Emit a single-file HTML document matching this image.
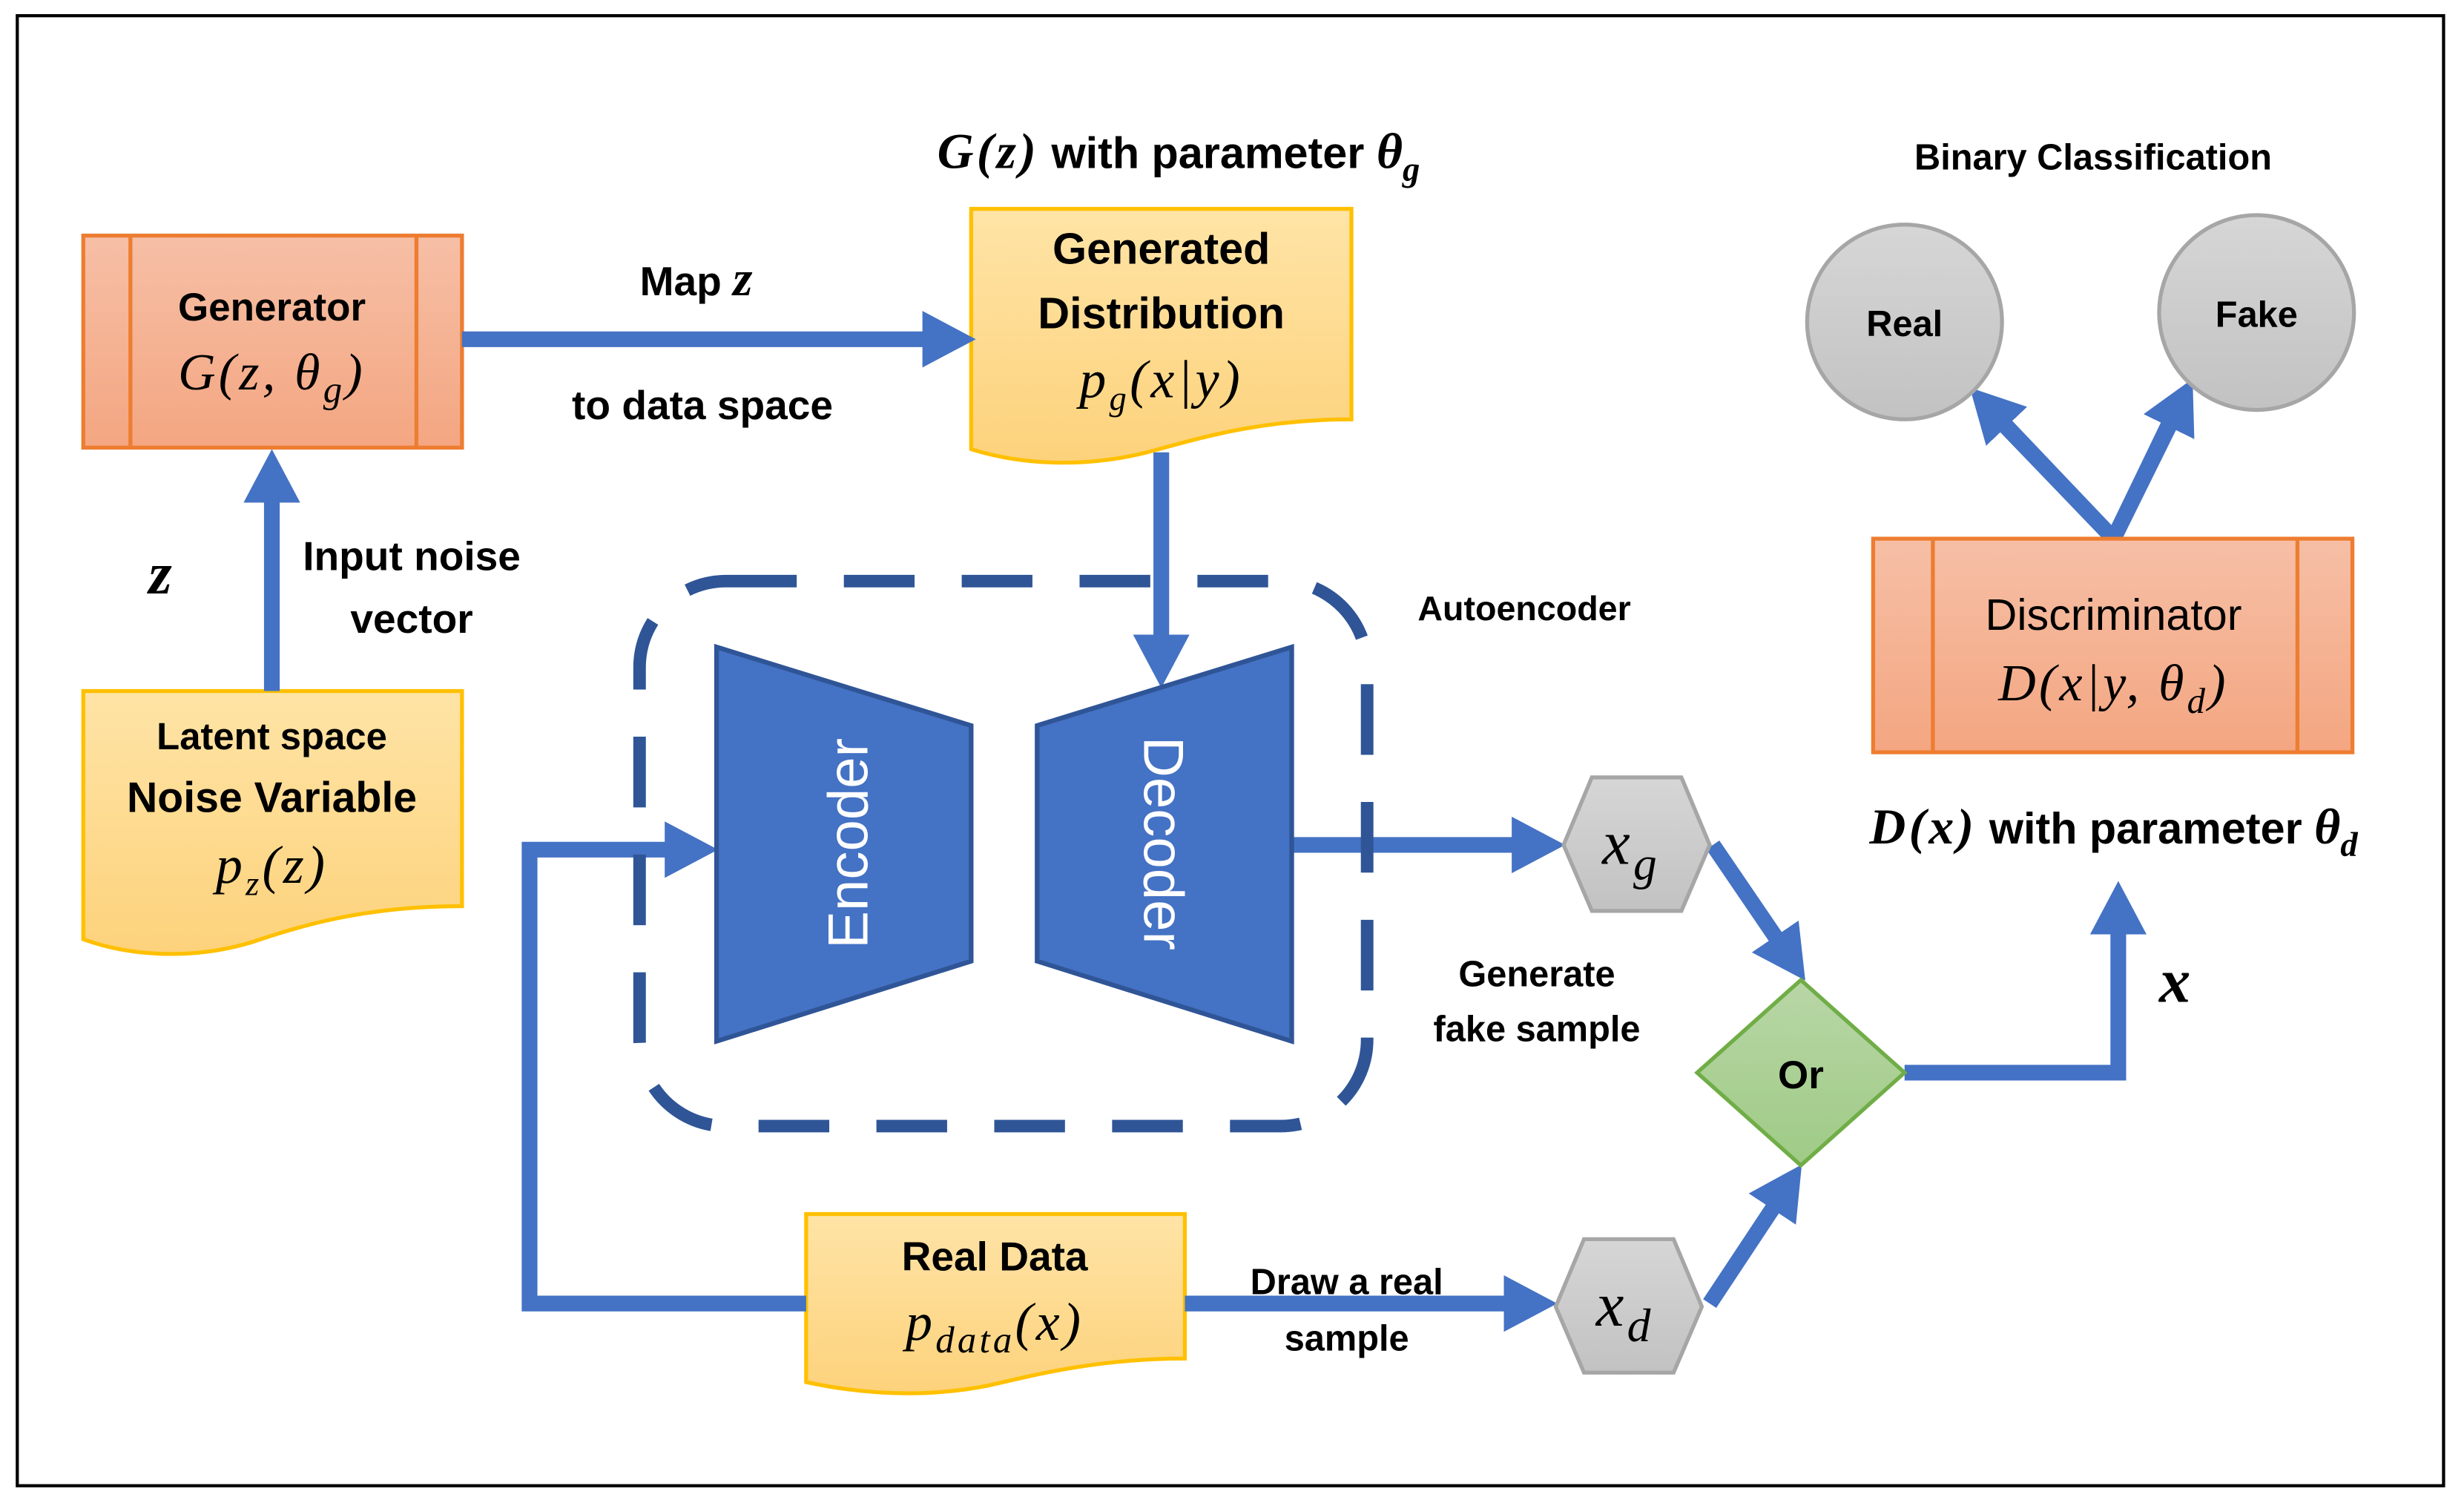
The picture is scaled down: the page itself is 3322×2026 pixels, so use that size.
<!DOCTYPE html>
<html><head><meta charset="utf-8"><style>
html,body{margin:0;padding:0;background:#fff}
svg{display:block}
.b{font-family:"Liberation Sans",sans-serif;font-weight:bold;fill:#000;text-anchor:middle}
.m{font-family:"Liberation Serif",serif;font-style:italic;fill:#000;text-anchor:middle;letter-spacing:2px}
</style></head><body>
<svg width="3322" height="2026" viewBox="0 0 1568 957" preserveAspectRatio="none" xmlns="http://www.w3.org/2000/svg">
<defs>
<marker id="ah" viewBox="0 0 34 36" refX="13" refY="18" markerWidth="34" markerHeight="36" markerUnits="userSpaceOnUse" orient="auto"><path d="M0,0 L34,18 L0,36 Z" fill="#4472c4"/></marker>
<linearGradient id="org" x1="0" y1="0" x2="0" y2="1"><stop offset="0" stop-color="#f6bfa6"/><stop offset="1" stop-color="#f4a681"/></linearGradient>
<linearGradient id="yel" x1="0" y1="0" x2="0" y2="1"><stop offset="0" stop-color="#fee4a6"/><stop offset="1" stop-color="#fdd27c"/></linearGradient>
<linearGradient id="gry" x1="0" y1="0" x2="0" y2="1"><stop offset="0" stop-color="#d6d6d6"/><stop offset="1" stop-color="#c2c2c2"/></linearGradient>
<linearGradient id="grn" x1="0" y1="0" x2="0" y2="1"><stop offset="0" stop-color="#b8d6a6"/><stop offset="1" stop-color="#9fcb86"/></linearGradient>
</defs>
<rect x="11" y="10" width="1544" height="936" fill="none" stroke="#000" stroke-width="2"/>

<rect x="53" y="150" width="241" height="135" fill="url(#org)" stroke="#ed7d31" stroke-width="2.5"/>
<line x1="83" y1="150" x2="83" y2="285" stroke="#ed7d31" stroke-width="2.5"/>
<line x1="265" y1="150" x2="265" y2="285" stroke="#ed7d31" stroke-width="2.5"/>
<text class="b" x="173" y="204" font-size="25">Generator</text>
<text class="m" x="173" y="248" font-size="33">G(z, θ<tspan font-size="24" dy="8">g</tspan><tspan dy="-8">)</tspan></text>

<path d="M53,440 H294 V577 C230,577 190,590 160,600 C120,612 80,608 53,598 Z" fill="url(#yel)" stroke="#ffc000" stroke-width="2.5"/>
<text class="b" x="173" y="477" font-size="24">Latent space</text>
<text class="b" x="173" y="517" font-size="27">Noise Variable</text>
<text class="m" x="173" y="562" font-size="34">p<tspan font-size="22" dy="8">z</tspan><tspan dy="-8">(z)</tspan></text>

<path d="M618,133 H860 V267 C800,267 760,280 730,288 C690,298 650,296 618,286 Z" fill="url(#yel)" stroke="#ffc000" stroke-width="2.5"/>
<text class="b" x="739" y="168" font-size="28">Generated</text>
<text class="b" x="739" y="209" font-size="28">Distribution</text>
<text class="m" x="739" y="253" font-size="34">p<tspan font-size="22" dy="8">g</tspan><tspan dy="-8">(x|y)</tspan></text>
<text class="b" x="750" y="107" font-size="28"><tspan font-family="Liberation Serif" font-style="italic" font-size="32" letter-spacing="2">G(z)</tspan> with parameter <tspan font-family="Liberation Serif" font-style="italic" font-size="32">θ<tspan font-size="22" dy="8">g</tspan></tspan></text>

<path d="M513,773 H754 V865 C700,865 660,875 630,882 C590,890 550,888 513,880 Z" fill="url(#yel)" stroke="#ffc000" stroke-width="2.5"/>
<text class="b" x="633" y="809" font-size="26">Real Data</text>
<text class="m" x="633" y="853" font-size="34">p<tspan font-size="24" dy="8">data</tspan><tspan dy="-8">(x)</tspan></text>

<g stroke="#4472c4" stroke-width="10" fill="none">
<line x1="294" y1="216" x2="600" y2="216" marker-end="url(#ah)"/>
<line x1="173" y1="440" x2="173" y2="307" marker-end="url(#ah)"/>
<line x1="739" y1="288" x2="739" y2="417" marker-end="url(#ah)"/>
<polyline points="513,830 337,830 337,541 436,541" marker-end="url(#ah)"/>
<line x1="822" y1="538" x2="975" y2="538" marker-end="url(#ah)"/>
<line x1="754" y1="830" x2="970" y2="830" marker-end="url(#ah)"/>
<line x1="1090" y1="538" x2="1137" y2="607" marker-end="url(#ah)"/>
<line x1="1088" y1="830" x2="1135" y2="759" marker-end="url(#ah)"/>
<polyline points="1212,683 1348,683 1348,582" marker-end="url(#ah)"/>
<polyline points="1270,265 1345,343 1385,260" stroke-linejoin="miter"/>
<line x1="1345" y1="343" x2="1268" y2="262" marker-end="url(#ah)"/>
<line x1="1345" y1="343" x2="1386" y2="260" marker-end="url(#ah)"/>
</g>

<rect x="407" y="370" width="463" height="347" rx="55" fill="none" stroke="#2f5597" stroke-width="8" stroke-dasharray="45 30"/>
<text class="b" x="970" y="395" font-size="22">Autoencoder</text>
<polygon points="456,412 618,462 618,612 456,663" fill="#4472c4" stroke="#2f5597" stroke-width="3"/>
<polygon points="660,462 822,412 822,663 660,612" fill="#4472c4" stroke="#2f5597" stroke-width="3"/>
<text x="540" y="537" transform="rotate(-90 540 537)" font-family="Liberation Sans,sans-serif" font-size="36" fill="#fff" text-anchor="middle" dominant-baseline="central">Encoder</text>
<text x="740" y="537" transform="rotate(90 740 537)" font-family="Liberation Sans,sans-serif" font-size="36" fill="#fff" text-anchor="middle" dominant-baseline="central">Decoder</text>

<polygon points="995,538 1013,495 1070,495 1088,538 1070,580 1013,580" fill="url(#gry)" stroke="#a6a6a6" stroke-width="2.5"/>
<text class="m" x="1038" y="550" font-size="40">x<tspan font-size="30" dy="10">g</tspan></text>
<polygon points="990,832 1008,789 1065,789 1083,832 1065,874 1008,874" fill="url(#gry)" stroke="#a6a6a6" stroke-width="2.5"/>
<text class="m" x="1034" y="844" font-size="40">x<tspan font-size="30" dy="10">d</tspan></text>

<polygon points="1146,624 1212,683 1146,742 1080,683" fill="url(#grn)" stroke="#70ad47" stroke-width="2.5"/>
<text class="b" x="1146" y="693" font-size="25">Or</text>

<text class="b" x="978" y="628" font-size="23">Generate</text>
<text class="b" x="978" y="663" font-size="23">fake sample</text>
<text class="b" x="857" y="824" font-size="23">Draw a real</text>
<text class="b" x="857" y="860" font-size="23">sample</text>
<text class="b" x="443" y="188" font-size="26">Map <tspan font-family="Liberation Serif" font-style="italic" font-size="32">z</tspan></text>
<text class="b" x="447" y="267" font-size="26">to data space</text>
<text class="b" x="262" y="363" font-size="26">Input noise</text>
<text class="b" x="262" y="403" font-size="26">vector</text>
<text class="m" x="103" y="378" font-size="38" font-weight="bold">z</text>
<text class="m" x="1385" y="638" font-size="40" font-weight="bold">x</text>

<rect x="1192" y="343" width="305" height="136" fill="url(#org)" stroke="#ed7d31" stroke-width="2.5"/>
<line x1="1230" y1="343" x2="1230" y2="479" stroke="#ed7d31" stroke-width="2.5"/>
<line x1="1462" y1="343" x2="1462" y2="479" stroke="#ed7d31" stroke-width="2.5"/>
<text x="1345" y="401" font-family="Liberation Sans,sans-serif" font-size="28" text-anchor="middle">Discriminator</text>
<text class="m" x="1345" y="446" font-size="33">D(x|y, θ<tspan font-size="23" dy="8">d</tspan><tspan dy="-8">)</tspan></text>
<text class="b" x="1345" y="537" font-size="28"><tspan font-family="Liberation Serif" font-style="italic" font-size="32" letter-spacing="2">D(x)</tspan> with parameter <tspan font-family="Liberation Serif" font-style="italic" font-size="32">θ<tspan font-size="22" dy="8">d</tspan></tspan></text>

<circle cx="1212" cy="205" r="62" fill="url(#gry)" stroke="#a6a6a6" stroke-width="2.5"/>
<circle cx="1436" cy="199" r="62" fill="url(#gry)" stroke="#a6a6a6" stroke-width="2.5"/>
<text class="b" x="1212" y="214" font-size="23">Real</text>
<text class="b" x="1436" y="208" font-size="23">Fake</text>
<text class="b" x="1332" y="108" font-size="23">Binary Classification</text>
</svg>
</body></html>
